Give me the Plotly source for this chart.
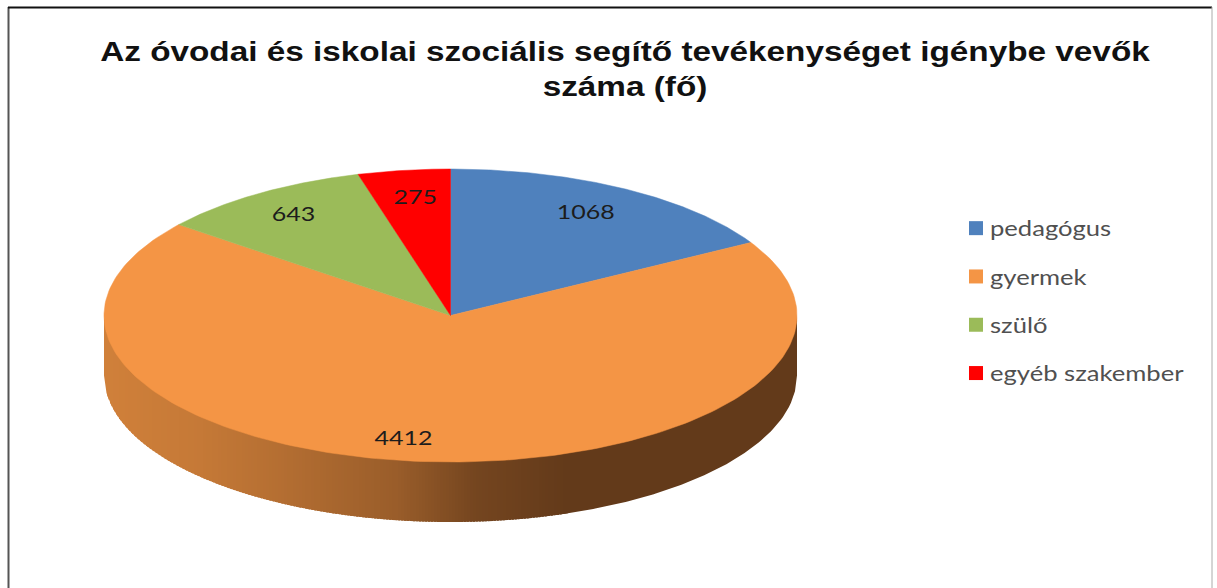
import numpy as np
import plotly.graph_objects as go

title_lines = ["Az óvodai és iskolai szociális segítő tevékenységet igénybe vevők", "száma (fő)"]
categories = ["pedagógus", "gyermek", "szülő", "egyéb szakember"]
values = [1068, 4412, 643, 275]
colors = ["#4F81BD", "#F49545", "#9BBB59", "#FF0000"]

W, H = 1217, 588
CX, CY, RX, RY, DEPTH = 450.5, 315.5, 346.5, 146.5, 60
LABEL_R = 0.82
LABEL_NUDGE_X = [-7, -26, 0, 3]
LABEL_NUDGE_Y = [2, 5, 1, 3]
SIDE_LIGHT, SIDE_DARK = (208, 128, 58), (99, 58, 26)
SIDE_STOPS_X = [104, 198, 277, 395, 474, 565]
SIDE_STOPS_F = [0, 0.1, 0.25, 0.5, 0.84, 1]
SIDE_STEP = 3

total = sum(values)
edges = np.concatenate([[0], np.cumsum(values)]) / total * 2 * np.pi


def px(t):
    return CX + RX * np.sin(t)


def py(t):
    return CY - RY * np.cos(t)


def rim(x):
    return CY + RY * np.sqrt(np.clip(1 - ((x - CX) / RX) ** 2, 0, 1))


fig = go.Figure()


def add_side(x0, x1, col):
    xs = np.linspace(x0, x1, max(3, int((x1 - x0) / 2)))
    fig.add_trace(go.Scatter(
        x=np.concatenate([xs, xs[::-1]]),
        y=np.concatenate([rim(xs) - 2, rim(xs[::-1]) + DEPTH]),
        mode="lines", fill="toself", fillcolor=col, line=dict(width=0),
        hoverinfo="skip", showlegend=False))


# Side wall: pixel-aligned vertical strips, each overlapped by the next one
left, right = CX - RX, CX + RX
starts = np.arange(np.floor(left), SIDE_STOPS_X[-1], SIDE_STEP)
for s in starts:
    f = np.interp(s, SIDE_STOPS_X, SIDE_STOPS_F)
    c = [round(l + (d - l) * f) for l, d in zip(SIDE_LIGHT, SIDE_DARK)]
    add_side(max(s, left), s + SIDE_STEP + 2, f"rgb({c[0]},{c[1]},{c[2]})")
add_side(SIDE_STOPS_X[-1], right, "rgb(%d,%d,%d)" % SIDE_DARK)

# Top face slices
for i, cat in enumerate(categories):
    ts = np.linspace(edges[i], edges[i + 1], 200)
    xs = np.concatenate([[CX], px(ts), [CX]])
    ys = np.concatenate([[CY], py(ts), [CY]])
    fig.add_trace(go.Scatter(x=xs, y=ys, mode="lines", fill="toself", fillcolor=colors[i],
                             line=dict(color=colors[i], width=0.5), name=cat,
                             hoverinfo="name", showlegend=False))

# Value labels
mids = (edges[:-1] + edges[1:]) / 2
fig.add_trace(go.Scatter(
    x=[CX + LABEL_R * RX * np.sin(m) + n for m, n in zip(mids, LABEL_NUDGE_X)],
    y=[CY - LABEL_R * RY * np.cos(m) + n for m, n in zip(mids, LABEL_NUDGE_Y)],
    mode="text", text=[str(v) for v in values], textposition="middle center",
    textfont=dict(family="Lato", size=20, color="#1c1c1c"),
    hoverinfo="skip", showlegend=False))

# Legend entries
for cat, col in zip(categories, colors):
    fig.add_trace(go.Scatter(x=[None], y=[None], mode="markers", name=cat, legendgroup=cat,
                             marker=dict(symbol="square", size=14, color=col)))

frame = [(8.5, 7, 8.5, H, "#555555", 2), (8, 7.5, 1212, 7.5, "#111111", 2), (1212, 7, 1212, H, "#aaaaaa", 1)]
shapes = [dict(type="line", x0=a, y0=b, x1=c, y1=d, xref="x", yref="y",
               line=dict(color=col, width=w)) for a, b, c, d, col, w in frame]

fig.update_layout(
    width=W, height=H, autosize=False,
    margin=dict(l=0, r=0, t=0, b=0),
    paper_bgcolor="white", plot_bgcolor="white",
    xaxis=dict(range=[0, W], visible=False, fixedrange=True),
    yaxis=dict(range=[H, 0], visible=False, fixedrange=True),
    title=dict(text="<br>".join(title_lines), x=625 / W, xanchor="center", y=1 - 61 / H, yanchor="top",
               font=dict(family="Liberation Sans", size=27, color="#111111", weight="bold")),
    legend=dict(x=956 / W, xanchor="left", y=1 - 208 / H, yanchor="top", traceorder="grouped",
                tracegroupgap=18, bgcolor="rgba(0,0,0,0)", entrywidth=240, entrywidthmode="pixels",
                font=dict(family="Lato", size=21, color="#505050")),
    shapes=shapes,
)

# The reference's text is horizontally stretched, and the page must have no body margin
css = """
html,body{margin:0;padding:0;overflow:hidden}
.gtitle{transform-box:fill-box;transform-origin:center;transform:scaleX(1.234)}
.textpoint text{transform-box:fill-box;transform-origin:center;transform:scaleX(1.25)}
.legend, .legend *{clip-path:none !important}
.legendtext{transform-box:fill-box;transform-origin:left center;transform:translateX(-6px) scaleX(1.22)}
"""
post = "var s=document.createElement('style');s.textContent=%r;document.head.appendChild(s);" % css.replace("\n", " ")
fig.write_html("out.html", config=dict(displayModeBar=False), post_script=post)
